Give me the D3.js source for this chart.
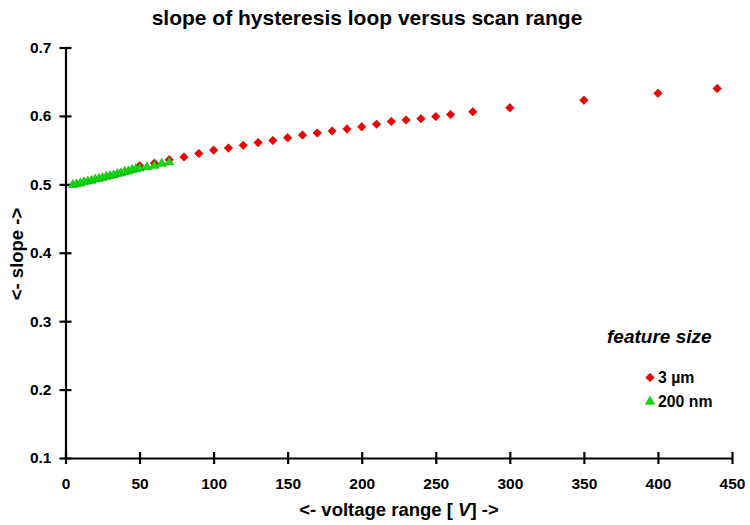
<!DOCTYPE html>
<html>
<head>
<meta charset="utf-8">
<script src="https://cdn.jsdelivr.net/npm/d3@7"></script>
<style>
  html, body { margin: 0; padding: 0; background: #fff; }
  svg { display: block; font-family: "Liberation Sans", Arial, sans-serif; }
</style>
</head>
<body>
<svg id="chart" width="750" height="525"></svg>
<script>
// 3 µm feature size: voltage range [V] and measured slope
const redVoltage = [50, 60, 70, 80, 90, 100, 110, 120, 130, 140, 150, 160, 170, 180, 190, 200,
                    210, 220, 230, 240, 250, 260, 275, 300, 350, 400, 440];
const redSlope   = [0.527, 0.531, 0.536, 0.540, 0.545, 0.550, 0.553, 0.557, 0.561, 0.564, 0.568,
                    0.572, 0.575, 0.578, 0.581, 0.584, 0.588, 0.592, 0.594, 0.596, 0.599, 0.602,
                    0.606, 0.612, 0.623, 0.633, 0.640];

// 200 nm feature size
const greenVoltage = [5, 7.5, 10, 12.5, 15, 17.5, 20, 22.5, 25, 27.5, 30, 32.5, 35, 37.5, 40,
                      42.5, 45, 47.5, 50, 55, 60, 65, 70];
const greenSlope   = [0.500, 0.501, 0.502, 0.504, 0.505, 0.506, 0.508, 0.509, 0.510, 0.512,
                      0.513, 0.514, 0.516, 0.517, 0.519, 0.520, 0.522, 0.523, 0.524, 0.526,
                      0.528, 0.531, 0.533];

const xTicks = [0, 50, 100, 150, 200, 250, 300, 350, 400, 450];
const yTicks = [0.1, 0.2, 0.3, 0.4, 0.5, 0.6, 0.7];
const seriesNames = ["3 µm", "200 nm"];

const svg = d3.select("#chart");
const x = d3.scaleLinear().domain([0, 450]).range([65.5, 732]);
const y = d3.scaleLinear().domain([0.1, 0.7]).range([458, 47.5]);

// title
svg.append("text")
  .attr("x", 367).attr("y", 25)
  .attr("text-anchor", "middle")
  .attr("font-size", 21).attr("font-weight", "bold")
  .text("slope of hysteresis loop versus scan range");

// axes
const xAxis = svg.append("g").attr("transform", `translate(0,${y(0.1)})`)
  .call(d3.axisBottom(x).tickValues(xTicks).tickSize(6).tickSizeOuter(0).tickPadding(14));
const yAxis = svg.append("g").attr("transform", `translate(${x(0)},0)`)
  .call(d3.axisLeft(y).tickValues(yTicks).tickSize(6).tickSizeOuter(0).tickPadding(8)
        .tickFormat(d3.format(".1f")));

[xAxis, yAxis].forEach(g => {
  g.select(".domain").attr("stroke", "#000").attr("stroke-width", 2.2);
  g.selectAll(".tick line").attr("stroke", "#000").attr("stroke-width", 2.2);
  g.selectAll(".tick text").attr("fill", "#000").attr("font-size", 15.5)
    .attr("font-weight", "bold").attr("font-family", "Liberation Sans, Arial, sans-serif");
});
// ticks cross the axis lines
xAxis.selectAll(".tick line").attr("y1", -6).attr("y2", 6);
yAxis.selectAll(".tick line").attr("x1", -6).attr("x2", 6);

// axis titles
const xt = svg.append("text")
  .attr("x", 399).attr("y", 516)
  .attr("text-anchor", "middle")
  .attr("font-size", 18.5).attr("font-weight", "bold");
xt.append("tspan").text("<- voltage range [ ");
xt.append("tspan").attr("font-style", "italic").text("V");
xt.append("tspan").text("] ->");

svg.append("text")
  .attr("transform", "translate(23,254) rotate(-90)")
  .attr("text-anchor", "middle")
  .attr("font-size", 18.5).attr("font-weight", "bold")
  .text("<- slope ->");

// markers
const diamond = d3.symbol().type(d3.symbolDiamond2).size(46);
const triangle = d3.symbol().type(d3.symbolTriangle).size(36);

svg.append("g").selectAll("path")
  .data(d3.zip(redVoltage, redSlope))
  .join("path")
  .attr("transform", d => `translate(${x(d[0])},${y(d[1])})`)
  .attr("d", diamond)
  .attr("fill", "#ee0000").attr("stroke", "#cc0000").attr("stroke-width", 0.6);

svg.append("g").selectAll("path")
  .data(d3.zip(greenVoltage, greenSlope))
  .join("path")
  .attr("transform", d => `translate(${x(d[0])},${y(d[1]) + 0.5})`)
  .attr("d", triangle)
  .attr("fill", "#11dd11").attr("stroke", "#00aa00").attr("stroke-width", 0.6);

// legend
svg.append("text")
  .attr("x", 607).attr("y", 343)
  .attr("font-size", 19).attr("font-weight", "bold").attr("font-style", "italic")
  .text("feature size");

const legend = svg.append("g");
legend.append("path").attr("transform", "translate(650,377.5)").attr("d", diamond)
  .attr("fill", "#ee0000").attr("stroke", "#cc0000").attr("stroke-width", 0.6);
legend.append("path").attr("transform", "translate(650,401.5)").attr("d", triangle)
  .attr("fill", "#11dd11").attr("stroke", "#00aa00").attr("stroke-width", 0.6);
legend.selectAll("text.item")
  .data(seriesNames)
  .join("text")
  .attr("class", "item")
  .attr("x", 658).attr("y", (d, i) => 383 + i * 24)
  .attr("font-size", 15.8).attr("font-weight", "bold")
  .text(d => d);
</script>
</body>
</html>
